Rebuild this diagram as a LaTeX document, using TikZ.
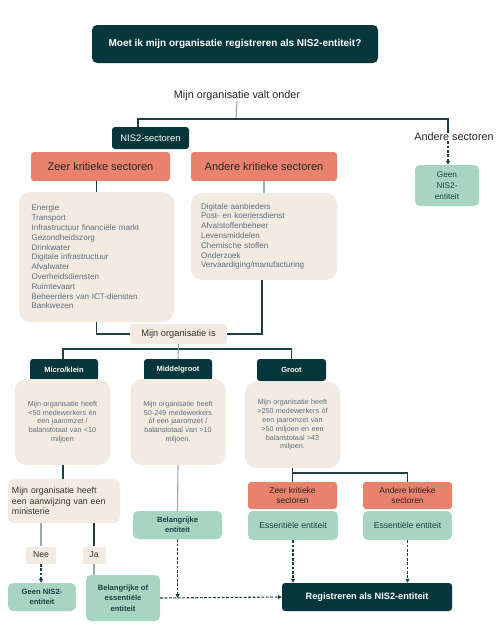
\documentclass[tikz,border=0pt]{standalone}
\usepackage{fontspec}
\setmainfont{Liberation Sans}
\usetikzlibrary{arrows.meta}
\definecolor{dk}{HTML}{05363C}
\definecolor{salm}{HTML}{E8826C}
\definecolor{beig}{HTML}{F3EBE2}
\definecolor{mint}{HTML}{A8D5C2}
\definecolor{ln}{HTML}{1E3F44}
\definecolor{lnl}{HTML}{9AABAD}
\definecolor{gtxt}{HTML}{5E6C7C}
\tikzset{
  x=1pt,y=-1pt,
  box/.style={inner sep=0pt,align=center},
  darkbox/.style={box,fill=dk,text=white,rounded corners=3pt,font=\bfseries\fontsize{7.5}{9}\selectfont},
  salmbox/.style={box,fill=salm,text=black!85,rounded corners=3pt},
  beigebox/.style={box,fill=beig,rounded corners=11pt,text=gtxt},
  mintbox/.style={box,fill=mint,text=ln,rounded corners=5pt},
  conn/.style={draw=ln,line width=1.1pt},
  connl/.style={draw=lnl,line width=1.1pt},
  dconn/.style={draw=ln,line width=1.1pt,dash pattern=on 2.8pt off 1.6pt,-{Triangle[length=4pt,width=4pt]}},
  lbl/.style={box,fill=beig,text=black!80,font=\fontsize{8.6}{10}\selectfont}
}
\begin{document}
\begin{tikzpicture}
\useasboundingbox (0,0) rectangle (500,643);
\fill[white] (0,0) rectangle (500,643);
% title
\node[darkbox,minimum width=286pt,minimum height=38pt,rounded corners=5pt,font=\bfseries\fontsize{10}{12}\selectfont] (title) at (235,44) {Moet ik mijn organisatie registreren als NIS2-entiteit?};
\node[box,font=\fontsize{10.8}{12}\selectfont,text=black!85] (valt) at (237,96) {Mijn organisatie valt onder};
\node[darkbox,minimum width=77pt,minimum height=22pt,font=\fontsize{9.4}{11}\selectfont] (nis2) at (150.5,138) {NIS2-sectoren};
\node[salmbox,minimum width=139pt,minimum height=29pt,font=\fontsize{11}{13}\selectfont] (zeer) at (100.5,166.5) {Zeer kritieke sectoren};
\node[salmbox,minimum width=146pt,minimum height=29pt,font=\fontsize{11}{13}\selectfont] (andere) at (264,166.5) {Andere kritieke sectoren};
\node[beigebox,minimum width=155pt,minimum height=130pt,text width=130pt,align=left,font=\fontsize{8.1}{9.8}\selectfont] (zlist) at (96.5,257) {Energie\\Transport\\Infrastructuur financiële markt\\Gezondheidszorg\\Drinkwater\\Digitale infrastructuur\\Afvalwater\\Overheidsdiensten\\Ruimtevaart\\Beheerders van ICT-diensten\\Bankwezen};
\node[beigebox,minimum width=146pt,minimum height=87pt,text width=126pt,align=left,font=\fontsize{8.1}{9.8}\selectfont] (alist) at (264,236.5) {Digitale aanbieders\\Post- en koeriersdienst\\Afvalstoffenbeheer\\Levensmiddelen\\Chemische stoffen\\Onderzoek\\Vervaardiging/manufacturing};
\node[box,font=\fontsize{10.8}{12}\selectfont,text=black!85] (andsect) at (454,137) {Andere sectoren};
\node[mintbox,minimum width=64pt,minimum height=41pt,font=\fontsize{8.2}{11}\selectfont] (geen1) at (447,185.5) {Geen\\NIS2-\\entiteit};
\node[lbl,minimum width=97pt,minimum height=20pt,rounded corners=3pt,font=\fontsize{9.3}{10}\selectfont] (orgis) at (178.5,334) {Mijn organisatie is};
% size boxes
\node[darkbox,minimum width=68pt,minimum height=22pt] (micro) at (64,370) {Micro/klein};
\node[darkbox,minimum width=68pt,minimum height=22pt] (middel) at (178,370) {Middelgroot};
\node[darkbox,minimum width=69pt,minimum height=22pt] (groot) at (291.5,370) {Groot};
\node[beigebox,minimum width=95pt,minimum height=86pt,text width=88pt,font=\fontsize{7.2}{8.8}\selectfont] (microb) at (62.5,422) {Mijn organisatie heeft\\<50 medewerkers èn\\een jaaromzet /\\balanstotaal van <10\\miljoen};
\node[beigebox,minimum width=95pt,minimum height=86pt,text width=88pt,font=\fontsize{7.2}{8.8}\selectfont] (middelb) at (178,422) {Mijn organisatie heeft\\50-249 medewerkers\\óf een jaaromzet /\\balanstotaal van >10\\miljoen.};
\node[beigebox,minimum width=95pt,minimum height=86pt,text width=88pt,font=\fontsize{7.2}{8.8}\selectfont] (grootb) at (292.5,425) {Mijn organisatie heeft\\>250 medewerkers óf\\een jaaromzet van\\>50 miljoen en een\\balanstotaal >43\\miljoen.};
\node[beigebox,rounded corners=7pt,minimum width=112pt,minimum height=44pt,text width=104pt,align=left,text=black!80,font=\fontsize{8.8}{10.8}\selectfont] (aanw) at (64,501) {Mijn organisatie heeft\\een aanwijzing van een\\ministerie};
\node[mintbox,minimum width=89pt,minimum height=28pt,font=\bfseries\fontsize{7.6}{10.5}\selectfont] (bel) at (177.5,525) {Belangrijke\\entiteit};
\node[salmbox,minimum width=89pt,minimum height=27pt,font=\fontsize{8.4}{10}\selectfont] (zeer2) at (292.5,495.5) {Zeer kritieke\\sectoren};
\node[salmbox,minimum width=89pt,minimum height=27pt,font=\fontsize{8.4}{10}\selectfont] (andere2) at (407.5,495.5) {Andere kritieke\\sectoren};
\node[mintbox,minimum width=90pt,minimum height=29pt,font=\fontsize{8.6}{10}\selectfont] (ess1) at (293,525.5) {Essentiële entiteit};
\node[mintbox,minimum width=89pt,minimum height=29pt,font=\fontsize{8.6}{10}\selectfont] (ess2) at (407.5,525.5) {Essentiële entiteit};
\node[darkbox,minimum width=170pt,minimum height=28pt,font=\bfseries\fontsize{9.2}{11}\selectfont] (reg) at (367,597) {Registreren als NIS2-entiteit};
\node[lbl,minimum width=30pt,minimum height=17pt] (nee) at (41,555) {Nee};
\node[lbl,minimum width=23pt,minimum height=17pt] (ja) at (94,555) {Ja};
\node[mintbox,minimum width=68pt,minimum height=28pt,font=\bfseries\fontsize{7.6}{10.5}\selectfont] (geen2) at (42,597) {Geen NIS2-\\entiteit};
\node[mintbox,minimum width=74pt,minimum height=46pt,font=\bfseries\fontsize{7.6}{10.5}\selectfont] (belofess) at (123,598) {Belangrijke of\\essentiële\\entiteit};
% connectors top
\coordinate (j1) at (236,119);
\coordinate (j1L) at (138,119);
\coordinate (j1R) at (448,119);
\draw[connl] (valt.south) -- (j1);
\draw[conn] (nis2.north -| j1L) -- (j1L) -- (j1R) -- (andsect.north -| j1R);
\draw[dconn] (andsect.south -| j1R) -- (geen1.north -| j1R);
\draw[conn] (zeer.south -| zlist.north) -- (zlist.north);
\draw[connl] (andere.south) -- (alist.north);
\draw[conn] (zlist.south) |- (orgis.west);
\coordinate (ab) at (262,280);
\draw[conn] (ab) |- (orgis.east);
% size split
\coordinate (h2L) at (63,349);
\coordinate (h2R) at (291.5,349);
\draw[conn] (micro.north -| h2L) -- (h2L) -- (h2R) -- (groot.north);
\draw[connl] (orgis.south) -- (middel.north);
% lower
\draw[conn] (microb.south -| h2L) -- (aanw.north -| h2L);
\draw[connl] (middelb.south) -- (bel.north);
\coordinate (h3R) at (407.5,473);
\draw[conn] (grootb.south) -- (zeer2.north);
\draw[conn] (grootb.south |- h3R) -- (h3R) -- (andere2.north);
\draw[dconn] (ess1.south) -- (ess1.south |- reg.north);
\draw[dconn] (ess2.south) -- (ess2.south |- reg.north);
\draw[connl] (aanw.south -| nee.north) -- (nee.north);
\draw[dconn] (nee.south) -- (geen2.north -| nee.south);
\draw[conn] (aanw.south -| ja.north) -- (ja.north);
\draw[connl] (ja.south) -- (belofess.north -| ja.south);
\draw[dconn] (bel.south) -- (bel.south |- belofess.east);
\draw[dconn] (belofess.east) -- (reg.west);
\end{tikzpicture}
\end{document}
